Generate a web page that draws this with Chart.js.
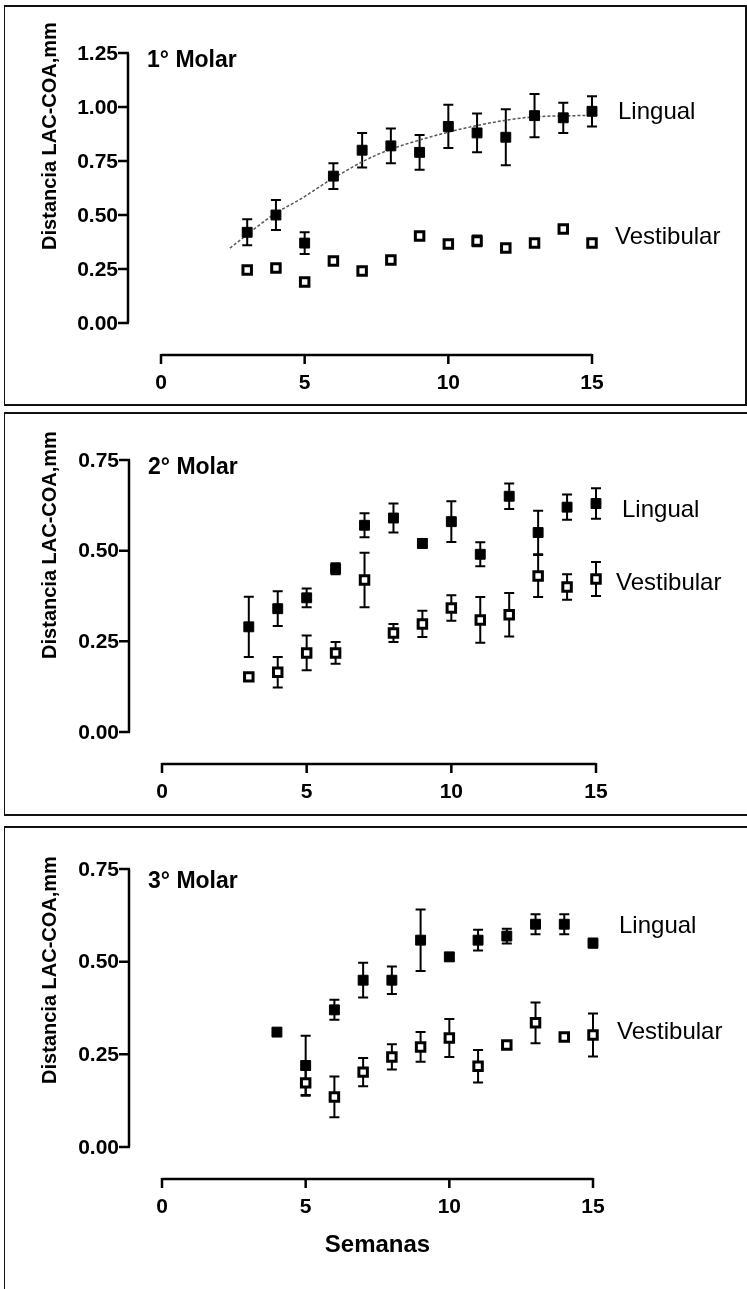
<!DOCTYPE html>
<html>
<head>
<meta charset="utf-8">
<script src="https://cdn.jsdelivr.net/npm/chart.js@4/dist/chart.umd.min.js"></script>
<style>
    body { margin: 0; background: #fff; width: 747px; height: 1289px; position: relative; overflow: hidden; }
    canvas { position: absolute; left: 0; }
    .marco { position: absolute; box-sizing: border-box; border: 0 solid #111; }
</style>
</head>
<body>
<div class="marco" style="left:4px; top:5px; width:743px; height:401px; border-width:2px 2px 2px 1px;"></div>
<div class="marco" style="left:4px; top:412px; width:743px; height:404px; border-width:2px 0 2px 1px;"></div>
<div class="marco" style="left:4px; top:826px; width:743px; height:463px; border-width:2px 0 0 1px;"></div>
<canvas id="molar1" width="747" height="409" style="top:0"></canvas>
<canvas id="molar2" width="747" height="411" style="top:409px"></canvas>
<canvas id="molar3" width="747" height="469" style="top:820px"></canvas>
<script>
// Semanas y valores medios (mm) con su error
var semanas = [3, 4, 5, 6, 7, 8, 9, 10, 11, 12, 13, 14, 15];

var lingual1 = [0.42, 0.50, 0.37, 0.68, 0.80, 0.82, 0.79, 0.91, 0.88, 0.86, 0.96, 0.95, 0.98];
var lingual1Err = [0.06, 0.07, 0.05, 0.06, 0.08, 0.08, 0.08, 0.10, 0.09, 0.13, 0.10, 0.07, 0.07];
var vestibular1 = [0.245, 0.255, 0.19, 0.287, 0.241, 0.292, 0.403, 0.366, 0.38, 0.347, 0.37, 0.435, 0.37];
var vestibular1Err = [0, 0, 0, 0, 0, 0, 0, 0, 0.025, 0, 0, 0, 0];
// curva de ajuste del lado lingual
var ajuste1X = [2.4, 4.0, 4.8, 6.0, 7.5, 9.0, 11.1, 12.95, 15.2, 15.9];
var ajuste1Y = [0.347, 0.509, 0.569, 0.671, 0.778, 0.847, 0.917, 0.954, 0.963, 0.972];

var lingual2 = [0.29, 0.34, 0.37, 0.45, 0.57, 0.59, 0.52, 0.58, 0.49, 0.65, 0.55, 0.62, 0.63];
var lingual2Err = [0.083, 0.048, 0.026, 0.015, 0.033, 0.04, 0.012, 0.056, 0.033, 0.035, 0.06, 0.035, 0.042];
var vestibular2 = [0.152, 0.165, 0.218, 0.218, 0.419, 0.273, 0.298, 0.342, 0.309, 0.323, 0.43, 0.40, 0.422];
var vestibular2Err = [0, 0.042, 0.048, 0.03, 0.075, 0.025, 0.036, 0.035, 0.063, 0.06, 0.058, 0.035, 0.047];

var semanas3L = [4, 5, 6, 7, 8, 9, 10, 11, 12, 13, 14, 15];
var lingual3 = [0.31, 0.22, 0.37, 0.45, 0.45, 0.558, 0.513, 0.558, 0.569, 0.601, 0.601, 0.55];
var lingual3Err = [0, 0.08, 0.027, 0.047, 0.037, 0.083, 0.01, 0.028, 0.02, 0.027, 0.027, 0.012];
var semanas3V = [5, 6, 7, 8, 9, 10, 11, 12, 13, 14, 15];
var vestibular3 = [0.173, 0.135, 0.202, 0.243, 0.27, 0.294, 0.218, 0.275, 0.335, 0.297, 0.302];
var vestibular3Err = [0.035, 0.055, 0.038, 0.034, 0.04, 0.051, 0.044, 0.01, 0.055, 0.01, 0.058];

var xTicks = [0, 5, 10, 15];
var yTicks1 = [0, 0.25, 0.50, 0.75, 1.00, 1.25];
var yTicks23 = [0, 0.25, 0.50, 0.75];

var FUENTE = '"Liberation Sans", Arial, sans-serif';

function puntos(xs, ys) {
    return xs.map(function(x, i) { return { x: x, y: ys[i] }; });
}

// barras de error verticales con remate, por debajo de los marcadores
var barrasError = {
    id: 'barrasError',
    beforeDatasetsDraw: function(chart) {
        var ctx = chart.ctx, sx = chart.scales.x, sy = chart.scales.y;
        ctx.save();
        ctx.strokeStyle = '#000';
        ctx.lineWidth = 2;
        chart.data.datasets.forEach(function(ds) {
            if (!ds.errores) return;
            ds.data.forEach(function(p, i) {
                var e = ds.errores[i];
                if (!e) return;
                var px = sx.getPixelForValue(p.x);
                var y1 = sy.getPixelForValue(p.y + e), y2 = sy.getPixelForValue(p.y - e);
                ctx.beginPath();
                ctx.moveTo(px, y1); ctx.lineTo(px, y2);
                ctx.moveTo(px - 5, y1); ctx.lineTo(px + 5, y1);
                ctx.moveTo(px - 5, y2); ctx.lineTo(px + 5, y2);
                ctx.stroke();
            });
        });
        ctx.restore();
    }
};

// ejes separados al estilo Prism, titulo del panel y rotulos de las series
var ejes = {
    id: 'ejes',
    afterDraw: function(chart) {
        var o = chart.options.plugins.ejes;
        var ctx = chart.ctx, sx = chart.scales.x, sy = chart.scales.y;
        var ax = sx.getPixelForValue(0) - 33;
        var ay = sy.getPixelForValue(0) + 32;
        var yMax = o.yTicks[o.yTicks.length - 1];
        ctx.save();
        ctx.strokeStyle = '#000';
        ctx.fillStyle = '#000';
        ctx.lineWidth = 2.5;

        ctx.beginPath();
        ctx.moveTo(ax, sy.getPixelForValue(yMax));
        ctx.lineTo(ax, sy.getPixelForValue(0));
        o.yTicks.forEach(function(v) {
            var py = sy.getPixelForValue(v);
            ctx.moveTo(ax + 1, py); ctx.lineTo(ax - 10, py);
        });
        ctx.moveTo(sx.getPixelForValue(0), ay);
        ctx.lineTo(sx.getPixelForValue(15), ay);
        xTicks.forEach(function(v) {
            var px = sx.getPixelForValue(v);
            ctx.moveTo(px, ay - 1); ctx.lineTo(px, ay + 9);
        });
        ctx.stroke();

        ctx.font = 'bold 21px ' + FUENTE;
        ctx.textAlign = 'right';
        ctx.textBaseline = 'middle';
        o.yTicks.forEach(function(v) {
            ctx.fillText(v.toFixed(2), ax - 10, sy.getPixelForValue(v) + 1);
        });
        ctx.textAlign = 'center';
        xTicks.forEach(function(v) {
            ctx.fillText(String(v), sx.getPixelForValue(v), ay + 28);
        });

        ctx.textAlign = 'left';
        ctx.font = 'bold 23px ' + FUENTE;
        ctx.fillText(o.titulo, ax + 19, sy.getPixelForValue(yMax) + o.tituloDy);

        ctx.font = '24px ' + FUENTE;
        o.rotulos.forEach(function(r) {
            ctx.fillText(r.texto, sx.getPixelForValue(15) + r.dx, sy.getPixelForValue(r.y));
        });

        ctx.save();
        ctx.translate(50, o.ejeYCentro);
        ctx.rotate(-Math.PI / 2);
        ctx.textAlign = 'center';
        ctx.font = 'bold 20px ' + FUENTE;
        ctx.fillText('Distancia LAC-COA,mm', 0, 0);
        ctx.restore();

        if (o.tituloX) {
            ctx.textAlign = 'center';
            ctx.font = 'bold 24px ' + FUENTE;
            ctx.fillText(o.tituloX, (sx.getPixelForValue(0) + sx.getPixelForValue(15)) / 2, ay + 66);
        }
        ctx.restore();
    }
};

function serieLingual(xs, ys, errs) {
    return {
        data: puntos(xs, ys), errores: errs,
        pointStyle: 'rect', pointRadius: 7, pointHoverRadius: 7,
        backgroundColor: '#000', borderColor: '#000', borderWidth: 1,
        showLine: false, clip: false, order: 1
    };
}

function serieVestibular(xs, ys, errs) {
    return {
        data: puntos(xs, ys), errores: errs,
        pointStyle: 'rect', pointRadius: 6, pointHoverRadius: 6,
        backgroundColor: '#fff', borderColor: '#000', borderWidth: 3,
        showLine: false, clip: false, order: 0
    };
}

function crearPanel(id, datasets, yMax, padding, ejesOpts) {
    return new Chart(document.getElementById(id), {
        type: 'scatter',
        data: { datasets: datasets },
        options: {
            responsive: false,
            animation: false,
            events: [],
            layout: { padding: padding },
            scales: {
                x: { type: 'linear', min: 0, max: 15, display: false },
                y: { type: 'linear', min: 0, max: yMax, display: false }
            },
            plugins: {
                legend: { display: false },
                tooltip: { enabled: false },
                ejes: ejesOpts
            }
        },
        plugins: [barrasError, ejes]
    });
}

// 1º molar
crearPanel('molar1', [
    {
        type: 'line',
        data: puntos(ajuste1X, ajuste1Y),
        borderColor: '#555', borderWidth: 1.5, borderDash: [3, 2],
        pointRadius: 0, cubicInterpolationMode: 'monotone', clip: false, order: 2
    },
    serieLingual(semanas, lingual1, lingual1Err),
    serieVestibular(semanas, vestibular1, vestibular1Err)
], 1.25, { left: 161, right: 155, top: 53, bottom: 86 }, {
    yTicks: yTicks1, titulo: '1° Molar', tituloDy: 8, ejeYCentro: 136,
    rotulos: [{ texto: 'Lingual', dx: 26, y: 0.975 }, { texto: 'Vestibular', dx: 23, y: 0.398 }]
});

// 2º molar
crearPanel('molar2', [
    serieLingual(semanas, lingual2, lingual2Err),
    serieVestibular(semanas, vestibular2, vestibular2Err)
], 0.75, { left: 162, right: 151, top: 51, bottom: 88 }, {
    yTicks: yTicks23, titulo: '2° Molar', tituloDy: 8, ejeYCentro: 136,
    rotulos: [{ texto: 'Lingual', dx: 26, y: 0.612 }, { texto: 'Vestibular', dx: 20, y: 0.41 }]
});

// 3º molar
crearPanel('molar3', [
    serieLingual(semanas3L, lingual3, lingual3Err),
    serieVestibular(semanas3V, vestibular3, vestibular3Err)
], 0.75, { left: 162, right: 154, top: 49, bottom: 142 }, {
    yTicks: yTicks23, titulo: '3° Molar', tituloDy: 13, ejeYCentro: 150,
    rotulos: [{ texto: 'Lingual', dx: 26, y: 0.596 }, { texto: 'Vestibular', dx: 24, y: 0.31 }],
    tituloX: 'Semanas'
});
</script>
</body>
</html>
